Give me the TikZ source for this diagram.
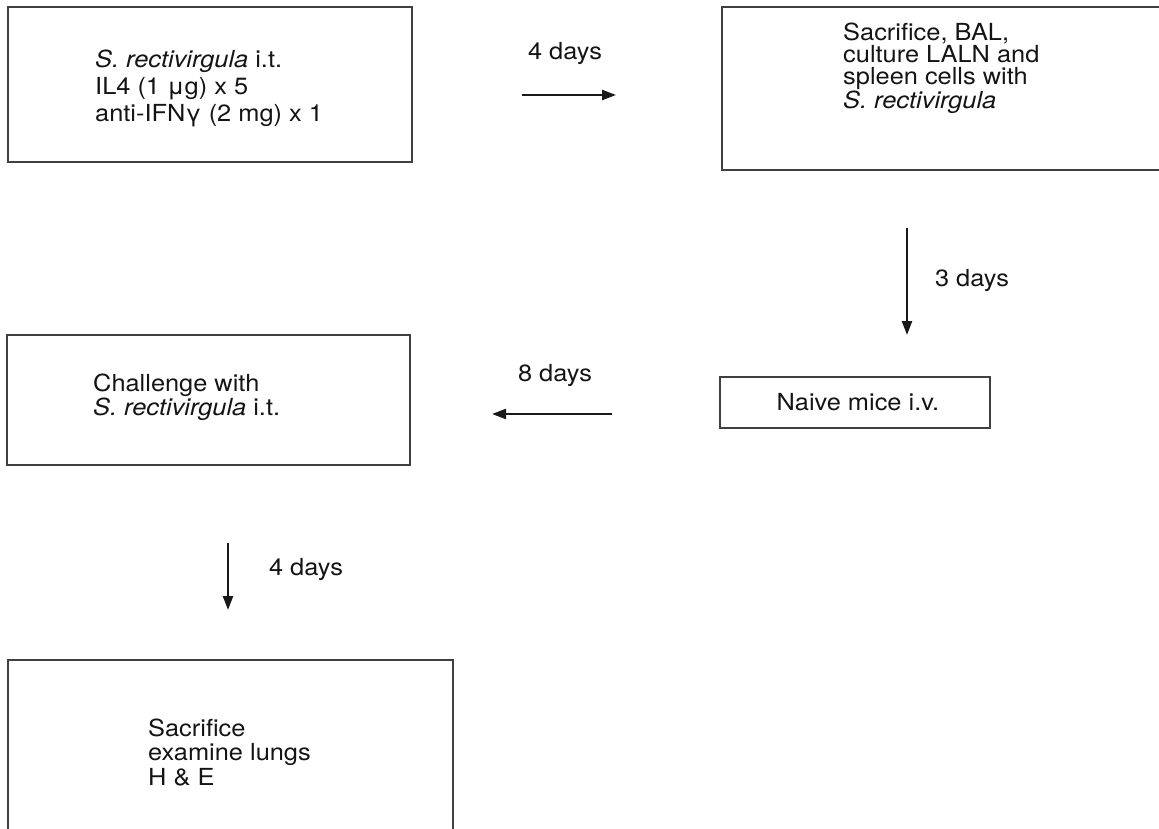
\documentclass[tikz,border=0pt]{standalone}
\usepackage{fontspec}
\setmainfont{TeX Gyre Heros}[FakeStretch=1.08]
\usetikzlibrary{arrows.meta}
\begin{document}
\begin{tikzpicture}[x=1pt,y=-1pt,
  box/.style={draw=black!75,line width=1.1pt,inner sep=0pt,outer sep=0pt,anchor=north west},
  txt/.style={inner sep=0pt,align=left,text=black!92},
  arr/.style={line width=2.3pt,draw=black!90,-{Triangle[length=14pt,width=10pt]}},
  days/.style={inner sep=0pt,text=black!92,font=\fontsize{23.5}{26}\selectfont}]
\useasboundingbox (0,0) rectangle (1159,829);
\clip (0,0) rectangle (1159,829);
% boxes
\node[box,minimum width=404pt,minimum height=155pt] (b1) at (8,7) {};
\node[box,minimum width=470pt,minimum height=163pt] (b2) at (722,7) {};
\node[box,minimum width=270pt,minimum height=51pt] (b3) at (720,377) {};
\node[box,minimum width=403pt,minimum height=130pt] (b4) at (7,335) {};
\node[box,minimum width=445pt,minimum height=200pt] (b5) at (8,660) {};
% texts
\node[txt,anchor=west,font=\fontsize{23.5}{27}\selectfont] (t1) at (95,88)
  {\textit{S. rectivirgula} i.t.\\IL4 (1 μg) x 5\\anti-IFNγ (2 mg) x 1};
\node[txt,anchor=west,font=\fontsize{23.5}{22}\selectfont] (t2) at (843,68)
  {Sacrifice, BAL,\\culture LALN and\\spleen cells with\\\textit{S. rectivirgula}};
\node[txt,anchor=center,font=\fontsize{23.5}{26}\selectfont] (t3) at (858,402)
  {Naive mice i.v.};
\node[txt,anchor=west,font=\fontsize{23.5}{22}\selectfont] (t4) at (93,397)
  {Challenge with\\\textit{S. rectivirgula} i.t.};
\node[txt,anchor=west,font=\fontsize{23.5}{24.5}\selectfont] (t5) at (148,752)
  {Sacrifice\\examine lungs\\H \& E};
% arrows
\coordinate (a1s) at (522,95); \coordinate (a1e) at (616,95);
\coordinate (a2s) at (907,228); \coordinate (a2e) at (907,335);
\coordinate (a3s) at (612,414); \coordinate (a3e) at (492,414);
\coordinate (a4s) at (228,543); \coordinate (a4e) at (228,610);
\draw[arr] (a1s) -- (a1e);
\draw[arr] (a2s) -- (a2e);
\draw[arr] (a3s) -- (a3e);
\draw[arr] (a4s) -- (a4e);
\node[days] (l1) at (565,53) {4 days};
\node[days] (l2) at (972,280) {3 days};
\node[days] (l3) at (555,375) {8 days};
\node[days] (l4) at (306,569) {4 days};
\end{tikzpicture}
\end{document}
